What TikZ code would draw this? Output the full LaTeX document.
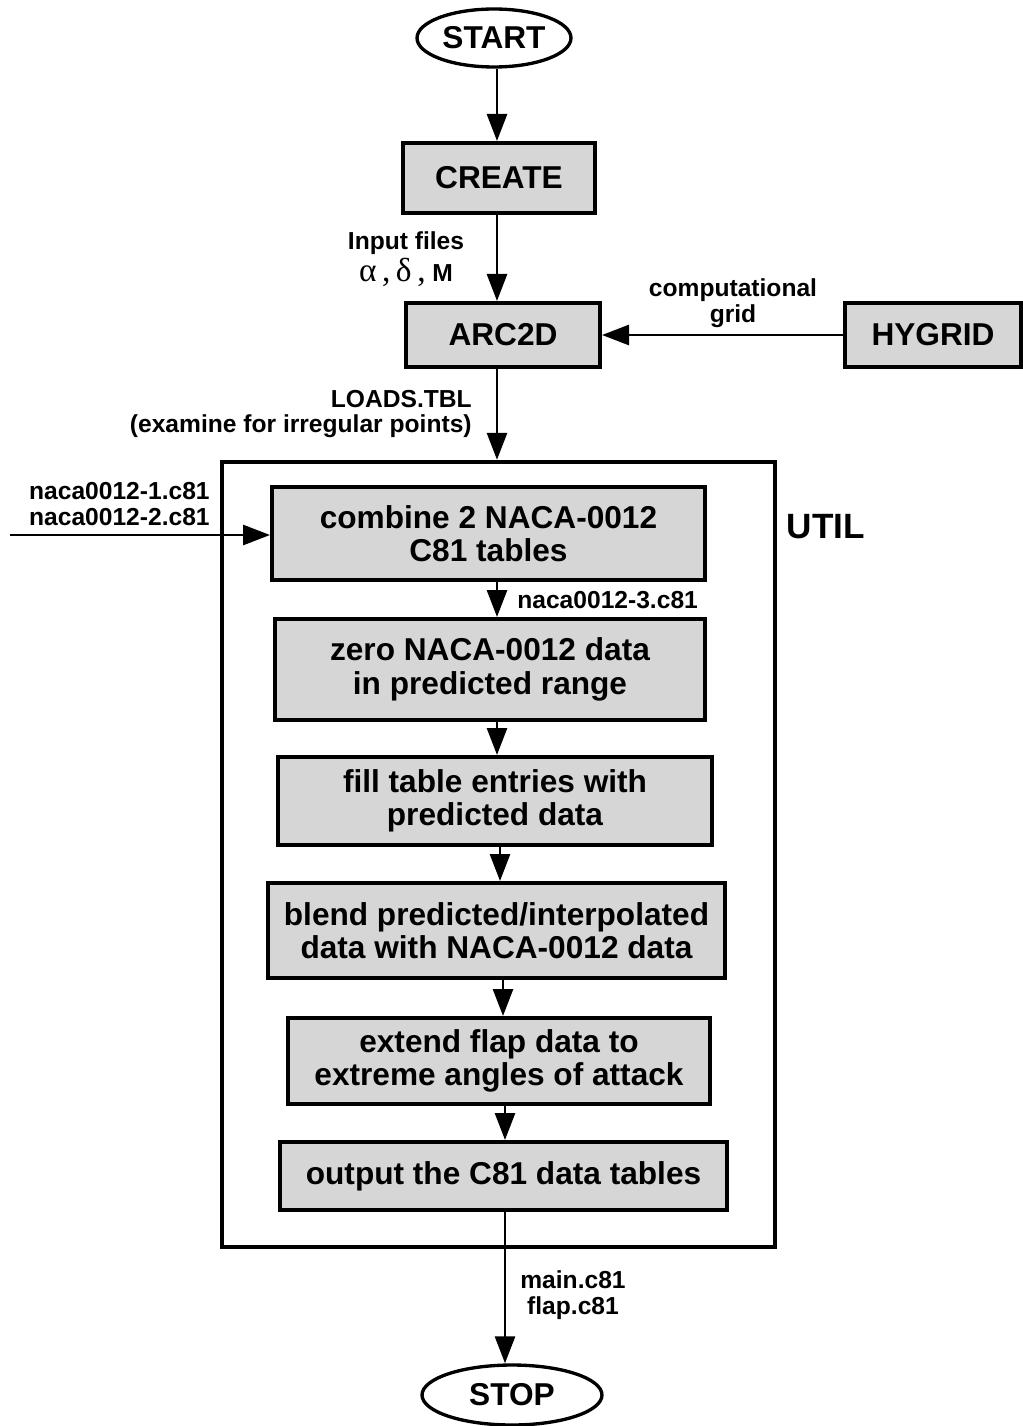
\documentclass[tikz,border=0pt]{standalone}
\usepackage{fontspec}
\setmainfont{Liberation Sans}
\newfontfamily\greekfont{Liberation Serif}
\usetikzlibrary{shapes.geometric}
\usetikzlibrary{arrows.meta}

\begin{document}
\begin{tikzpicture}[x=0.02cm,y=-0.02cm,
		font=\bfseries\fontsize{18}{19}\selectfont,
		prog/.style={draw,line width=2.3pt,fill=black!16,inner sep=0pt,align=center},
		term/.style={draw,ellipse,line width=1.9pt,inner sep=0pt},
		lbl/.style={font=\bfseries\fontsize{14}{14.5}\selectfont,inner sep=0pt},
		flow/.style={line width=1.6pt,-{Stealth[inset=0pt,length=0.54cm,width=0.4cm]}}]
	\useasboundingbox (0,0) rectangle (1023,1426);

	% main program chain
	\node[term,minimum width=3.08cm,minimum height=1.16cm] (start) at (494,38) {START};
	\node[prog,minimum width=3.84cm,minimum height=1.40cm] (create) at (499,178) {CREATE};
	\node[prog,minimum width=3.88cm,minimum height=1.28cm] (arc) at (503,335) {ARC2D};
	\node[prog,minimum width=3.52cm,minimum height=1.28cm] (hygrid) at (933,335) {HYGRID};

	% UTIL frame and its steps
	\node[draw,line width=2.6pt,minimum width=11.06cm,minimum height=15.7cm] (util) at (498.5,854.5) {};
	\node[font=\bfseries\fontsize{20}{22}\selectfont] (utilname) at (826,527) {UTIL};
	\node[prog,minimum width=8.66cm,minimum height=1.86cm] (comb) at (488.5,533.5) {combine 2 NACA-0012\\C81 tables};
	\node[prog,minimum width=8.60cm,minimum height=2.02cm] (zero) at (490,669.5) {zero NACA-0012 data\\in predicted range};
	\node[prog,minimum width=8.68cm,minimum height=1.76cm] (fill) at (495,801) {fill table entries with\\predicted data};
	\node[prog,minimum width=9.14cm,minimum height=1.90cm] (blend) at (496.5,930.5) {blend predicted/interpolated\\data with NACA-0012 data};
	\node[prog,minimum width=8.44cm,minimum height=1.72cm] (extend) at (499,1061) {extend flap data to\\extreme angles of attack};
	\node[prog,minimum width=8.94cm,minimum height=1.36cm] (output) at (503.5,1176) {output the C81 data tables};

	\node[term,minimum width=3.60cm,minimum height=1.20cm] (stop) at (512,1395) {STOP};

	% file labels
	\node[lbl,align=center] (infiles) at (406,259) {Input files\\[1pt]{\greekfont\mdseries\fontsize{19}{19}\selectfont α\,,\,δ\,,} M};
	\node[lbl,align=center] (gridlbl) at (733,303) {computational\\grid};
	\node[lbl,align=right,anchor=east] (loads) at (472,414) {LOADS.TBL\\(examine for irregular points)};
	\node[lbl,align=right,anchor=east] (nacain) at (210,504) {naca0012-1.c81\\naca0012-2.c81};
	\node[lbl,anchor=west] (naca3) at (517,600) {naca0012-3.c81};
	\node[lbl,align=center] (outfiles) at (573,1295) {main.c81\\flap.c81};

	\coordinate (feed) at (10,535);

	\draw[flow] (start.south -| 497,0) -- (create.north -| 497,0);
	\draw[flow] (create.south -| 497,0) -- (arc.north -| 497,0);
	\draw[flow] (hygrid.west) -- (arc.east);
	\draw[flow] (arc.south -| 497,0) -- (util.north -| 497,0);
	\draw[flow] (feed) -- (feed -| comb.west);
	\draw[flow] (comb.south -| 497,0) -- (zero.north -| 497,0);
	\draw[flow] (zero.south -| 497,0) -- (fill.north -| 497,0);
	\draw[flow] (fill.south -| 500,0) -- (blend.north -| 500,0);
	\draw[flow] (blend.south -| 503,0) -- (extend.north -| 503,0);
	\draw[flow] (extend.south -| 505,0) -- (output.north -| 505,0);
	\draw[flow] (output.south -| 505,0) -- (stop.north -| 505,0);
\end{tikzpicture}
\end{document}
